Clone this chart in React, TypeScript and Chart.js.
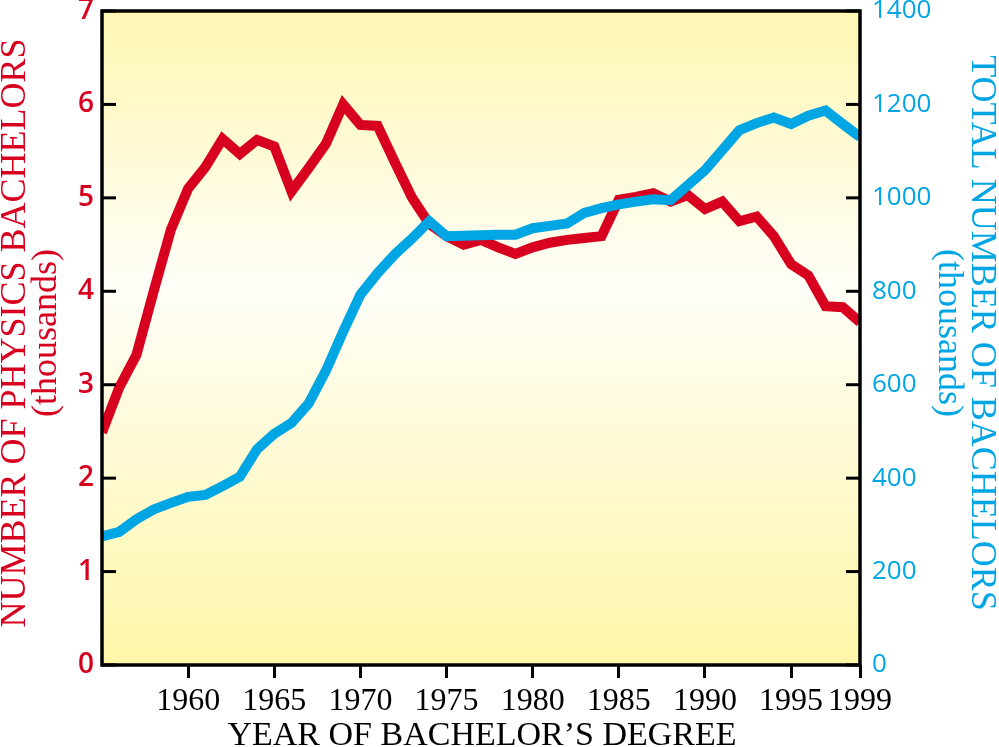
import { useEffect, useRef } from "react";
import { Chart, registerables } from "chart.js";

Chart.register(...registerables);

// years of bachelor's degree
const years = [
  1955, 1956, 1957, 1958, 1959, 1960, 1961, 1962, 1963, 1964,
  1965, 1966, 1967, 1968, 1969, 1970, 1971, 1972, 1973, 1974,
  1975, 1976, 1977, 1978, 1979, 1980, 1981, 1982, 1983, 1984,
  1985, 1986, 1987, 1988, 1989, 1990, 1991, 1992, 1993, 1994,
  1995, 1996, 1997, 1998, 1999,
];

// physics bachelors (thousands)
const physics = [
  2.49, 2.97, 3.32, 4.0, 4.66, 5.1, 5.33, 5.63, 5.47, 5.62,
  5.55, 5.07, 5.32, 5.58, 6.0, 5.78, 5.77, 5.38, 5.0, 4.72,
  4.59, 4.5, 4.55, 4.47, 4.4, 4.47, 4.52, 4.55, 4.57, 4.59,
  4.98, 5.01, 5.05, 4.96, 5.03, 4.88, 4.96, 4.75, 4.8, 4.59,
  4.29, 4.17, 3.84, 3.83, 3.67,
];

// all bachelors (thousands)
const total = [
  275, 285, 312, 333, 347, 360, 364, 383, 403, 462,
  495, 518, 560, 630, 714, 793, 839, 879, 913, 950,
  918, 919, 920, 921, 921, 935, 940, 945, 968, 978,
  986, 992, 997, 995, 1027, 1059, 1102, 1145, 1160, 1172,
  1158, 1176, 1187, 1158, 1130,
];

const xTicks = [1960, 1965, 1970, 1975, 1980, 1985, 1990, 1995, 1999];

const RED = "#d7001f";
const BLUE = "#00a5e3";

const framePlugin = {
  id: "frame",
  beforeDatasetsDraw(chart: any) {
    const { ctx, chartArea: a } = chart;
    const g = ctx.createLinearGradient(0, a.top, 0, a.bottom);
    g.addColorStop(0, "#fff7b2");
    g.addColorStop(0.42, "#fffef8");
    g.addColorStop(1, "#fff6a8");
    ctx.save();
    ctx.fillStyle = g;
    ctx.fillRect(a.left, a.top, a.right - a.left, a.bottom - a.top);
    ctx.restore();
  },
  afterDatasetsDraw(chart: any) {
    const { ctx, chartArea: a, scales } = chart;
    ctx.save();
    ctx.strokeStyle = "#000";
    ctx.lineWidth = 3.5;
    ctx.strokeRect(a.left, a.top, a.right - a.left, a.bottom - a.top);
    // inward ticks on both value axes
    ctx.lineWidth = 3;
    scales.y.ticks.forEach((t: any) => {
      const py = scales.y.getPixelForValue(t.value);
      ctx.beginPath();
      ctx.moveTo(a.left, py);
      ctx.lineTo(a.left + 14, py);
      ctx.stroke();
    });
    scales.y1.ticks.forEach((t: any) => {
      const py = scales.y1.getPixelForValue(t.value);
      ctx.beginPath();
      ctx.moveTo(a.right, py);
      ctx.lineTo(a.right - 14, py);
      ctx.stroke();
    });
    ctx.restore();
  },
  afterDraw(chart: any) {
    const { ctx, chartArea: a } = chart;
    const midY = (a.top + a.bottom) / 2 - 5;
    ctx.save();
    ctx.textAlign = "center";
    ctx.textBaseline = "alphabetic";
    ctx.font = "36px 'Liberation Serif'";

    ctx.fillStyle = RED;
    ctx.save();
    ctx.translate(25, midY);
    ctx.rotate(-Math.PI / 2);
    ctx.fillText("NUMBER OF PHYSICS BACHELORS", 0, 0);
    ctx.restore();
    ctx.save();
    ctx.translate(56, midY);
    ctx.rotate(-Math.PI / 2);
    ctx.fillText("(thousands)", 0, 0);
    ctx.restore();

    ctx.fillStyle = BLUE;
    ctx.save();
    ctx.translate(972, midY);
    ctx.rotate(Math.PI / 2);
    ctx.fillText("TOTAL NUMBER OF BACHELORS", 0, 0);
    ctx.restore();
    ctx.save();
    ctx.translate(939, midY);
    ctx.rotate(Math.PI / 2);
    ctx.fillText("(thousands)", 0, 0);
    ctx.restore();

    ctx.fillStyle = "#000";
    ctx.font = "34px 'Liberation Serif'";
    ctx.fillText("YEAR OF BACHELOR\u2019S DEGREE", 482, 745);
    ctx.restore();
  },
};

export default function App() {
  const canvasRef = useRef<HTMLCanvasElement | null>(null);

  useEffect(() => {
    if (!canvasRef.current) return;

    const chart = new Chart(canvasRef.current, {
      type: "line",
      data: {
        datasets: [
          {
            label: "Total bachelors",
            data: years.map((yr, i) => ({ x: yr, y: total[i] })),
            yAxisID: "y1",
            borderColor: BLUE,
            borderWidth: 10,
            pointRadius: 0,
            tension: 0,
            borderJoinStyle: "miter",
          },
          {
            label: "Physics bachelors",
            data: years.map((yr, i) => ({ x: yr, y: physics[i] })),
            yAxisID: "y",
            borderColor: RED,
            borderWidth: 10,
            pointRadius: 0,
            tension: 0,
            borderJoinStyle: "miter",
          },
        ],
      },
      options: {
        animation: false,
        responsive: true,
        maintainAspectRatio: false,
        layout: { padding: { top: 11, left: 0, right: 0, bottom: 0 } },
        plugins: {
          legend: { display: false },
          tooltip: { enabled: false },
        },
        scales: {
          x: {
            type: "linear",
            min: 1955,
            max: 1999,
            afterBuildTicks: (axis: any) => {
              axis.ticks = xTicks.map((v) => ({ value: v }));
            },
            afterFit: (s: any) => {
              s.height = 82;
              s.paddingLeft = 0;
              s.paddingRight = 0;
            },
            border: { display: false },
            grid: {
              drawOnChartArea: false,
              tickLength: 13,
              tickWidth: 3,
              tickColor: "#000",
            },
            ticks: {
              autoSkip: false,
              maxRotation: 0,
              padding: 4,
              color: "#000",
              font: { family: "'Liberation Serif'", size: 32 },
              callback: (v: any) => String(v),
            },
          },
          y: {
            position: "left",
            min: 0,
            max: 7,
            afterFit: (s: any) => {
              s.width = 102;
              s.paddingTop = 0;
              s.paddingBottom = 0;
            },
            border: { display: false },
            grid: { display: false, drawTicks: false },
            ticks: {
              stepSize: 1,
              padding: 8,
              color: RED,
              font: { family: "'Open Sans'", size: 28, weight: "600" },
              callback: (v: any) => String(v),
            },
          },
          y1: {
            position: "right",
            min: 0,
            max: 1400,
            afterFit: (s: any) => {
              s.width = 139;
              s.paddingTop = 0;
              s.paddingBottom = 0;
            },
            border: { display: false },
            grid: { display: false, drawTicks: false },
            ticks: {
              stepSize: 200,
              padding: 12,
              color: BLUE,
              font: { family: "'Open Sans'", size: 26 },
              callback: (v: any) => String(v),
            },
          },
        },
      },
      plugins: [framePlugin],
    } as any);

    return () => {
      chart.destroy();
    };
  }, []);

  return (
    <div style={{ position: "fixed", left: 0, top: 0, width: 999, height: 747, background: "#fff" }}>
      <canvas ref={canvasRef}></canvas>
    </div>
  );
}
